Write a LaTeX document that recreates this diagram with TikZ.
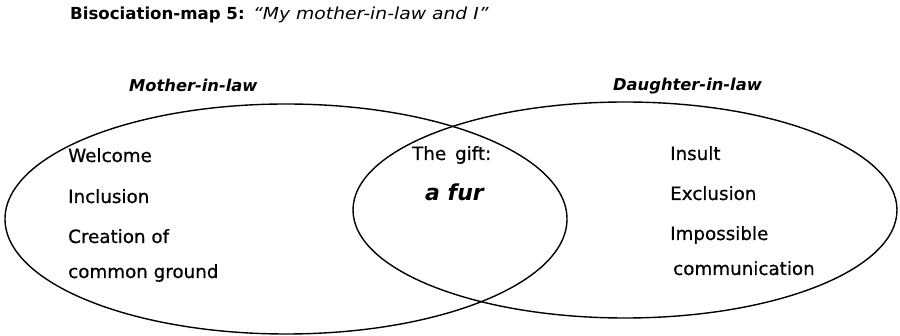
\documentclass[tikz,border=0pt]{standalone}
\usepackage{fontspec}
\setmainfont{DejaVu Sans}
\newfontfamily\bodyfont[FakeBold=0.6]{DejaVu Sans}
\usetikzlibrary{shapes.geometric}
\begin{document}
\begin{tikzpicture}[x=1pt,y=-1pt,
  body/.style={inner sep=0pt,anchor=base west,font=\bodyfont\fontsize{18.3}{20}\selectfont},
  group/.style={inner sep=0pt,anchor=base west,font=\fontsize{16.3}{18}\selectfont\bfseries\itshape},
  venn/.style={draw=black,line width=1.4pt}]
\useasboundingbox (0,0) rectangle (900,336);
% title
\node[inner sep=0pt,anchor=base west,font=\fontsize{16.6}{18}\selectfont\bfseries] (t1) at (70,20) {Bisociation-map 5:};
\node[inner sep=0pt,anchor=base west,font=\fontsize{16.6}{18}\selectfont\itshape] (t2) at (253,20) {\scalebox{1.13}[1]{“My mother-in-law and I”}};
% ellipses
\draw[venn] (286,219) ellipse [x radius=281, y radius=115];
\draw[venn] (625,210) ellipse [x radius=272, y radius=108];
% group labels
\node[group] (ml) at (129,92) {Mother-in-law};
\node[group] (dl) at (613,91) {Daughter-in-law};
% left
\node[body] (w) at (68,162) {Welcome};
\node[body] (inc) at (68,203) {Inclusion};
\node[body] (cr) at (68,243) {Creation of};
\node[body] (cg) at (68,278) {common ground};
% middle
\node[body] (gift) at (412,160) {The\, gift:};
\node[inner sep=0pt,anchor=base west,font=\fontsize{22}{24}\selectfont\bfseries\itshape] (fur) at (425,201) {a fur};
% right
\node[body] (ins) at (670,160) {Insult};
\node[body] (exc) at (670,200) {Exclusion};
\node[body] (imp) at (670,240) {Impossible};
\node[body] (com) at (673,275) {communication};
\end{tikzpicture}
\end{document}
